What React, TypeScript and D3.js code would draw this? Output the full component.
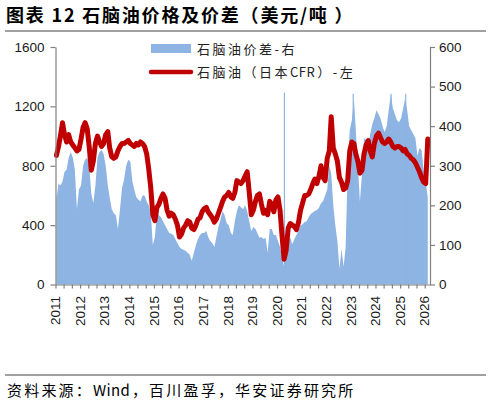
import {
  area,
  axisBottom,
  axisLeft,
  axisRight,
  line,
  scaleLinear,
  scaleTime,
  select,
  timeMonth,
} from "d3";
import { useEffect, useRef } from "react";

// monthly, starting Jan 2011 (USD/t)
const firstMonth = new Date(2011, 0, 15);

// naphtha CFR Japan, left axis
const naphtha = [
  870, 930, 1000, 1090, 1010, 960, 1010, 960, 940, 920, 900, 910, // 2011
  980, 1060, 1090, 1050, 930, 770, 830, 950, 1000, 960, 930, 950, // 2012
  1010, 1030, 920, 860, 850, 860, 900, 930, 950, 950, 960, 970, // 2013
  950, 940, 930, 950, 940, 960, 950, 930, 880, 780, 650, 470, // 2014
  430, 520, 540, 580, 610, 580, 500, 460, 480, 470, 440, 400, // 2015
  320, 340, 380, 400, 430, 420, 380, 370, 400, 440, 450, 490, // 2016
  510, 520, 490, 470, 450, 420, 440, 480, 520, 560, 590, 600, // 2017
  620, 590, 580, 620, 700, 690, 680, 700, 730, 760, 620, 470, // 2018
  500, 560, 600, 610, 540, 480, 500, 470, 560, 540, 490, 570, // 2019
  590, 500, 330, 170, 230, 380, 410, 400, 390, 370, 420, 500, // 2020
  550, 600, 600, 610, 640, 680, 710, 680, 730, 800, 720, 700, // 2021
  850, 900, 1130, 920, 880, 830, 720, 690, 640, 650, 700, 900, // 2022
  960, 950, 880, 830, 750, 770, 880, 940, 970, 900, 860, 950, // 2023
  1000, 1020, 990, 960, 950, 960, 980, 960, 930, 920, 930, 930, // 2024
  920, 900, 910, 880, 870, 850, 840, 820, 790, 760, 720, 690, // 2025
  680, 980, // 2026
];

// naphtha spread, right axis
const spread = [
  215, 255, 250, 260, 285, 290, 320, 335, 320, 290, 190, 240, // 2011
  250, 300, 315, 320, 300, 230, 205, 250, 320, 335, 340, 330, // 2012
  300, 250, 220, 190, 180, 175, 140, 190, 245, 265, 300, 315, // 2013
  310, 260, 240, 220, 215, 210, 225, 225, 210, 200, 180, 100, // 2014
  120, 185, 175, 170, 160, 150, 140, 130, 128, 125, 115, 105, // 2015
  95, 90, 88, 85, 80, 75, 60, 80, 100, 115, 125, 130, // 2016
  130, 135, 120, 110, 105, 95, 120, 145, 165, 185, 175, 155, // 2017
  150, 130, 125, 160, 185, 200, 195, 190, 200, 185, 160, 135, // 2018
  145, 140, 130, 118, 120, 115, 118, 80, 140, 140, 125, 125, // 2019
  110, 95, 70, 45, 85, 115, 118, 102, 115, 125, 135, 150, // 2020
  152, 158, 160, 170, 178, 182, 186, 188, 194, 205, 211, 225, // 2021
  240, 300, 280, 200, 150, 110, 40, 90, 45, 95, 290, 390, // 2022
  415, 470, 390, 300, 210, 280, 370, 365, 350, 380, 405, 420, // 2023
  440, 430, 420, 400, 385, 400, 440, 480, 445, 430, 415, 410, // 2024
  420, 445, 470, 440, 400, 390, 380, 370, 325, 345, 340, 290, // 2025
  260, 220, // 2026
];

// single-day spikes in the spread
const spreadSpikes = [
  { date: "2020-04-20", value: 485 },
  { date: "2023-02-05", value: 482 },
  { date: "2024-08-20", value: 482 },
  { date: "2025-03-25", value: 482 },
];

const leftTicks = [0, 400, 800, 1200, 1600];
const rightTicks = [0, 100, 200, 300, 400, 500, 600];
const yearLabels = [
  "2011", "2012", "2013", "2014", "2015", "2016", "2017", "2018",
  "2019", "2020", "2021", "2022", "2023", "2024", "2025", "2026",
];

const BLUE = "#8db4e2";
const RED = "#c00000";
const AXIS = "#808080";
const NUM_FONT = "'Liberation Sans', Arial, sans-serif";
const CJK_FONT = "'Noto Sans CJK SC', sans-serif";

function styleAxis(g: any) {
  g.attr("color", AXIS)
    .attr("font-family", NUM_FONT)
    .attr("font-size", 13.5);
  g.selectAll("text").attr("fill", "#1a1a1a");
  g.selectAll("path, line").attr("stroke-width", 1.2);
}

export default function App() {
  const leftRef = useRef<SVGGElement>(null);
  const rightRef = useRef<SVGGElement>(null);
  const bottomRef = useRef<SVGGElement>(null);

  const x = scaleTime()
    .domain([new Date(2011, 0, 1), new Date(2026, 2, 20)])
    .range([55.5, 430]);
  const yL = scaleLinear().domain([0, 1600]).range([284.5, 47]);
  const yR = scaleLinear().domain([0, 600]).range([284.5, 47]);

  const dates = naphtha.map((_, i) => timeMonth.offset(firstMonth, i));

  const spreadArea = area<number>()
    .x((_, i) => x(dates[i]))
    .y0(yR(0))
    .y1((d) => yR(d));
  const priceLine = line<number>()
    .x((_, i) => x(dates[i]))
    .y((d) => yL(d));

  useEffect(() => {
    if (leftRef.current) {
      const g = select(leftRef.current);
      g.call(
        axisLeft(yL)
          .tickValues(leftTicks)
          .tickFormat((d) => String(d))
          .tickSize(5)
          .tickSizeOuter(0)
          .tickPadding(6)
      );
      styleAxis(g);
    }
    if (rightRef.current) {
      const g = select(rightRef.current);
      g.call(
        axisRight(yR)
          .tickValues(rightTicks)
          .tickFormat((d) => String(d))
          .tickSize(5)
          .tickSizeOuter(0)
          .tickPadding(4)
      );
      styleAxis(g);
    }
    if (bottomRef.current) {
      const g = select(bottomRef.current);
      g.call(
        axisBottom(x)
          .ticks(timeMonth.every(4))
          .tickSize(4)
          .tickSizeOuter(0)
          .tickFormat(() => "")
      );
      styleAxis(g);
    }
  }, []);

  return (
    <svg
      width={491}
      height={406}
      style={{ position: "absolute", left: 0, top: 0, background: "#fff" }}
    >
      <text
        x={6}
        y={22}
        fontFamily={CJK_FONT}
        fontWeight="bold"
        fontSize={18}
        letterSpacing={1.8}
        fill="#000"
      >
        图表 12 石脑油价格及价差（美元/吨 ）
      </text>
      <line x1={5} x2={486} y1={31} y2={31} stroke={AXIS} strokeWidth={1.5} />

      <path d={spreadArea(spread) ?? ""} fill={BLUE} />
      {spreadSpikes.map((s) => (
        <line
          key={s.date}
          x1={x(new Date(s.date))}
          x2={x(new Date(s.date))}
          y1={yR(0)}
          y2={yR(s.value)}
          stroke={BLUE}
          strokeWidth={1.2}
        />
      ))}
      <path
        d={priceLine(naphtha) ?? ""}
        fill="none"
        stroke={RED}
        strokeWidth={5}
        strokeLinejoin="round"
        strokeLinecap="round"
      />

      <g ref={leftRef} transform="translate(55.5,0)" />
      <g ref={rightRef} transform="translate(430,0)" />
      <g ref={bottomRef} transform={`translate(0,${yL(0)})`} />

      {yearLabels.map((yr) => {
        const px = x(new Date(+yr, 0, 1));
        return (
          <text
            key={yr}
            transform={`translate(${px},296) rotate(-90)`}
            textAnchor="end"
            dy="0.35em"
            fontFamily={NUM_FONT}
            fontSize={13.5}
            fill="#1a1a1a"
          >
            {yr}
          </text>
        );
      })}

      <rect x={151} y={44} width={40} height={9} fill={BLUE} />
      <text x={197} y={49} dy="0.35em" fontFamily={CJK_FONT} fontSize={13} letterSpacing={2.5} fill="#222">
        石脑油价差-右
      </text>
      <line x1={151} x2={191} y1={72} y2={72} stroke={RED} strokeWidth={4.5} strokeLinecap="round" />
      <text x={197} y={72} dy="0.35em" fontFamily={CJK_FONT} fontSize={13} letterSpacing={2.5} fill="#222">
        石脑油（日本<tspan letterSpacing={0.5}>CF</tspan>R）-左
      </text>

      <line x1={5} x2={486} y1={375} y2={375} stroke={AXIS} strokeWidth={1.5} />
      <text x={7} y={396} fontFamily={CJK_FONT} fontSize={15} letterSpacing={2.2} fill="#000">
        资料来源：<tspan letterSpacing={0.3}>Win</tspan>d，百川盈孚，华安证券研究所
      </text>
    </svg>
  );
}
